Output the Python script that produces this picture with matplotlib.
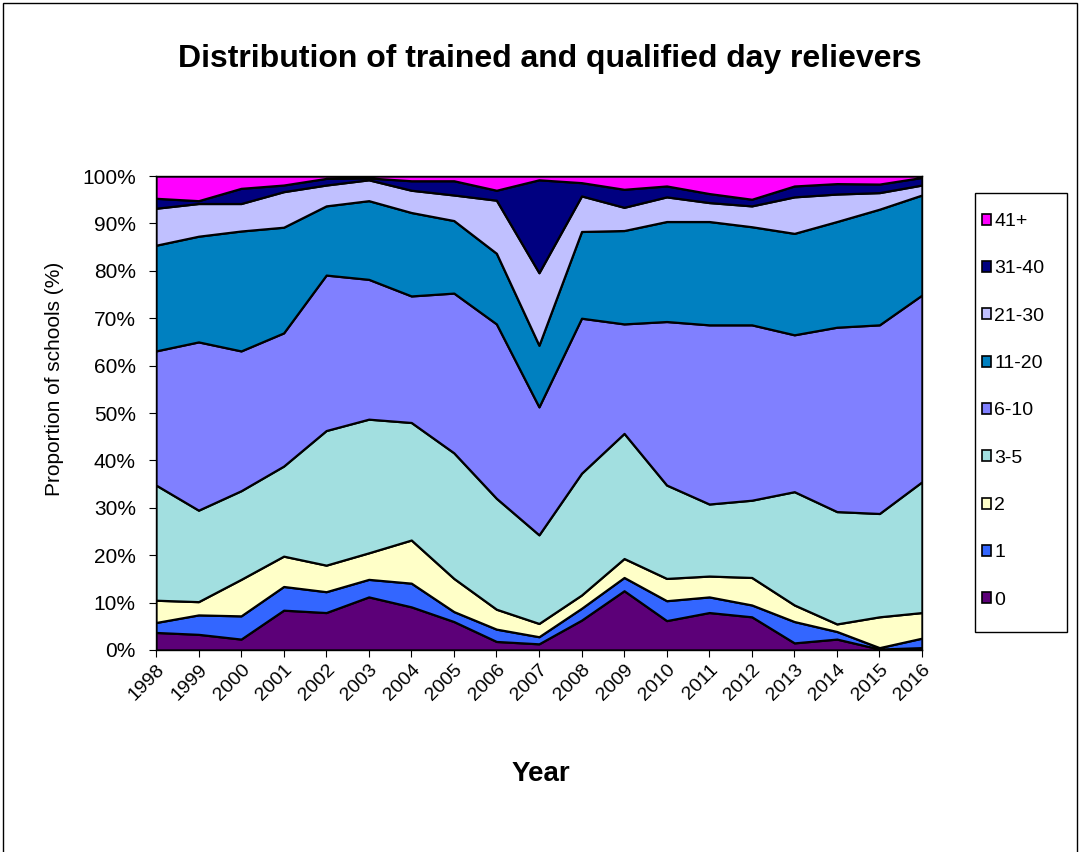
import numpy as np
import matplotlib
matplotlib.use("Agg")
import matplotlib.pyplot as plt
from matplotlib.patches import Patch, Rectangle

plt.rcParams['font.family'] = ['Liberation Sans', 'DejaVu Sans']

years = list(range(1998, 2017))
labels = ["0", "1", "2", "3-5", "6-10", "11-20", "21-30", "31-40", "41+"]
colors = ["#5c0078", "#3366ff", "#ffffc8", "#a2dfe0", "#8080ff",
          "#0080c0", "#c0c0ff", "#000080", "#ff00ff"]

# share of schools (%) per band
p0 = [3.7, 3.3, 2.3, 8.4, 7.9, 11.2, 9.1, 6.0, 1.8, 1.3, 6.3, 12.5, 6.2, 7.9, 7.0, 1.5, 2.3, 0.2, 0.5]
p1 = [2.1, 4.1, 4.9, 5.0, 4.4, 3.7, 5.0, 2.1, 2.6, 1.5, 2.5, 2.8, 4.2, 3.3, 2.5, 4.5, 1.6, 0.3, 2.0]
p2 = [4.7, 2.8, 7.7, 6.4, 5.6, 5.6, 9.1, 7.0, 4.2, 2.8, 2.8, 4.0, 4.7, 4.4, 5.8, 3.5, 1.6, 6.5, 5.4]
p3_5 = [24.3, 19.3, 18.7, 19.0, 28.4, 28.2, 24.8, 26.5, 23.4, 18.7, 25.7, 26.4, 19.7, 15.2, 16.3, 23.9, 23.7, 21.8, 27.6]
p6_10 = [28.3, 35.5, 29.5, 28.1, 32.8, 29.5, 26.7, 33.7, 36.8, 27.0, 32.7, 23.1, 34.5, 37.8, 37.0, 33.1, 38.9, 39.8, 39.4]
p11_20 = [22.3, 22.3, 25.3, 22.3, 14.6, 16.6, 17.6, 15.3, 14.9, 13.0, 18.3, 19.7, 21.1, 21.8, 20.7, 21.4, 22.3, 24.4, 21.1]
p21_30 = [7.8, 6.9, 5.8, 7.5, 4.4, 4.4, 4.7, 5.4, 11.2, 15.3, 7.5, 4.9, 5.2, 4.0, 4.4, 7.7, 5.8, 3.5, 2.1]
p31_40 = [2.1, 0.6, 3.2, 1.4, 1.4, 0.4, 2.0, 3.0, 2.1, 19.6, 2.8, 3.8, 2.3, 1.9, 1.4, 2.3, 2.2, 1.8, 1.6]
p41 = [4.7, 5.2, 2.6, 1.9, 0.5, 0.4, 1.0, 1.0, 3.0, 0.8, 1.4, 2.8, 2.1, 3.7, 4.9, 2.1, 1.6, 1.7, 0.3]

series = [p0, p1, p2, p3_5, p6_10, p11_20, p21_30, p31_40, p41]

fig = plt.figure(figsize=(10.8, 8.52), dpi=100)
ax = fig.add_axes([0.1444, 0.2371, 0.7093, 0.5563])

ax.stackplot(years, *series, colors=colors, edgecolor="black", linewidth=1.6)

ax.set_xlim(1998, 2016)
ax.set_ylim(0, 100)
ax.set_xticks(years)
ax.set_xticklabels([str(y) for y in years], rotation=45, ha="right",
                   rotation_mode="anchor", fontsize=14)
ax.set_yticks(range(0, 101, 10))
ax.set_yticklabels(["%d%%" % v for v in range(0, 101, 10)], fontsize=15)
ax.tick_params(axis="both", direction="out", length=5, color="black")
ax.tick_params(axis="y", pad=9.5)
ax.tick_params(axis="x", pad=3)
for s in ax.spines.values():
    s.set_linewidth(1.0)
    s.set_color("black")

ax.set_ylabel("Proportion of schools (%)", fontsize=15)
ax.yaxis.set_label_coords(-0.120, 0.572)
fig.text(0.501, 0.091, "Year", fontsize=20, fontweight="bold", ha="center", va="center")
fig.text(0.509, 0.931, "Distribution of trained and qualified day relievers",
         fontsize=23, fontweight="bold", ha="center", va="center")

# legend box drawn separately so its size matches the original
fig.patches.append(Rectangle((975 / 1080, 1 - 632 / 852), 92 / 1080, 439 / 852,
                             transform=fig.transFigure, facecolor="white",
                             edgecolor="black", linewidth=1.0))
handles = [Patch(facecolor=c, edgecolor="black", linewidth=1.2) for c in colors]
leg = fig.legend(handles[::-1], labels[::-1], loc="upper left",
                 bbox_to_anchor=(0.909, 0.750), fontsize=14, frameon=False,
                 labelspacing=1.56, handlelength=0.5, handleheight=0.5,
                 handletextpad=0.15, borderpad=0, borderaxespad=0)

# outer chart border
fig.patches.append(Rectangle((0.003, -0.01), 0.994, 1.007, transform=fig.transFigure,
                             fill=False, edgecolor="black", linewidth=1.0))

fig.savefig("out.png", dpi=100)
